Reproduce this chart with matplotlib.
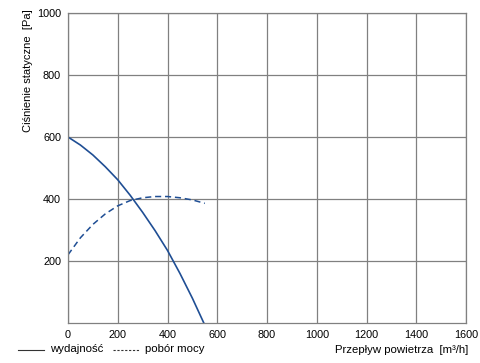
import matplotlib
matplotlib.use("Agg")
import matplotlib.pyplot as plt
from matplotlib.lines import Line2D

plt.rcParams['font.family'] = ['Liberation Sans', 'DejaVu Sans']

# data
flow = [0, 50, 100, 150, 200, 250, 300, 350, 400, 450, 500, 546]
wydajnosc = [600, 574, 542, 504, 462, 412, 357, 298, 234, 160, 80, 0]
flow_power = [0, 50, 100, 150, 200, 250, 300, 350, 400, 450, 500, 550]
pobor_mocy = [220, 275, 318, 352, 378, 395, 404, 408, 408, 404, 397, 386]
x_ticks = [0, 200, 400, 600, 800, 1000, 1200, 1400, 1600]
y_ticks = [200, 400, 600, 800, 1000]

blue = '#1f4e94'
grey = '#808080'

fig = plt.figure(figsize=(4.8, 3.63), dpi=100)
ax = fig.add_axes([68 / 480, 40 / 363, 398 / 480, 310 / 363])

ax.plot(flow, wydajnosc, color=blue, lw=1.2)
ax.plot(flow_power, pobor_mocy, color=blue, lw=1.1, dashes=(4, 2.5))

ax.set_xlim(0, 1600)
ax.set_ylim(0, 1000)
ax.set_xticks(x_ticks)
ax.set_yticks(y_ticks)
ax.grid(True, color=grey, lw=0.9)
ax.tick_params(length=0, labelsize=7.8, pad=5)
for s in ax.spines.values():
    s.set_color(grey)
    s.set_linewidth(0.9)

fig.text(28 / 480, 1 - 71 / 363, 'Ciśnienie statyczne  [Pa]', rotation=90,
         ha='center', va='center', fontsize=8)
fig.text(468 / 480, 1 - 350 / 363, 'Przepływ powietrza  [m³/h]',
         ha='right', va='center', fontsize=8.2)

# legend at the bottom
fig.add_artist(Line2D([18 / 480, 44 / 480], [1 - 350 / 363] * 2,
                      color='#333333', lw=0.8))
fig.text(50 / 480, 1 - 349 / 363, 'wydajność', ha='left', va='center', fontsize=8.2)
fig.add_artist(Line2D([113 / 480, 140 / 480], [1 - 350 / 363] * 2,
                      color='#333333', lw=0.8, dashes=(2, 1.5)))
fig.text(145 / 480, 1 - 349 / 363, 'pobór mocy', ha='left', va='center', fontsize=8.2)

plt.savefig('out.png', dpi=100)
